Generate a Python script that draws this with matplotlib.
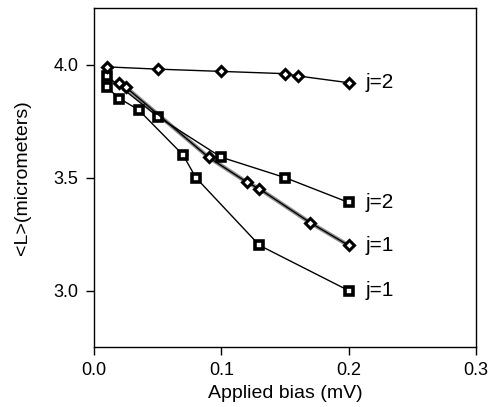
import matplotlib
matplotlib.use("Agg")
import matplotlib.pyplot as plt

plt.rcParams['font.family'] = ['Liberation Sans', 'DejaVu Sans']

# Data
dia_j2_x = [0.01, 0.05, 0.10, 0.15, 0.16, 0.20]
dia_j2_y = [3.99, 3.98, 3.97, 3.96, 3.95, 3.92]

dia_j1_x = [0.02, 0.025, 0.09, 0.12, 0.13, 0.17, 0.20]
dia_j1_y = [3.92, 3.90, 3.59, 3.48, 3.45, 3.30, 3.20]

sq_j2_x = [0.01, 0.05, 0.10, 0.15, 0.20]
sq_j2_y = [3.95, 3.77, 3.59, 3.50, 3.39]

sq_j1_x = [0.01, 0.02, 0.035, 0.07, 0.08, 0.13, 0.20]
sq_j1_y = [3.90, 3.85, 3.80, 3.60, 3.50, 3.20, 3.00]

labels = ["j=2", "j=2", "j=1", "j=1"]
label_y = [dia_j2_y[-1], sq_j2_y[-1], dia_j1_y[-1], sq_j1_y[-1]]

fig = plt.figure(figsize=(4.88, 4.07), dpi=100)
ax = fig.add_axes([0.1926, 0.1474, 0.7824, 0.8326])

sq_style = dict(color='black', lw=1.0, marker='s', markersize=5.5,
                markerfacecolor='white', markeredgecolor='black', markeredgewidth=2.6)
dia_style = dict(color='black', lw=1.0, marker='D', markersize=5,
                 markerfacecolor='white', markeredgecolor='black', markeredgewidth=2.2)

ax.plot(dia_j1_x, dia_j1_y, color='#909090', lw=3.0, zorder=1)
ax.plot(dia_j2_x, dia_j2_y, **dia_style, zorder=3)
ax.plot(dia_j1_x, dia_j1_y, **dia_style, zorder=3)
ax.plot(sq_j2_x, sq_j2_y, **sq_style, zorder=2)
ax.plot(sq_j1_x, sq_j1_y, **sq_style, zorder=2)

for lab, yv in zip(labels, label_y):
    ax.text(0.213, yv, lab, ha='left', va='center', fontsize=15)

ax.set_xlim(0, 0.3)
ax.set_ylim(2.75, 4.25)
ax.set_xticks([0.0, 0.1, 0.2, 0.3])
ax.set_xticklabels(["0.0", "0.1", "0.2", "0.3"])
ax.set_yticks([3.0, 3.5, 4.0])
ax.set_yticklabels(["3.0", "3.5", "4.0"])
ax.tick_params(direction='out', length=6, width=1, labelsize=13, pad=5)
for s in ax.spines.values():
    s.set_linewidth(1.0)

ax.set_xlabel("Applied bias (mV)", fontsize=14, labelpad=4)
ax.set_ylabel("<L>(micrometers)", fontsize=14, labelpad=16)

fig.savefig("out.png", dpi=100)
